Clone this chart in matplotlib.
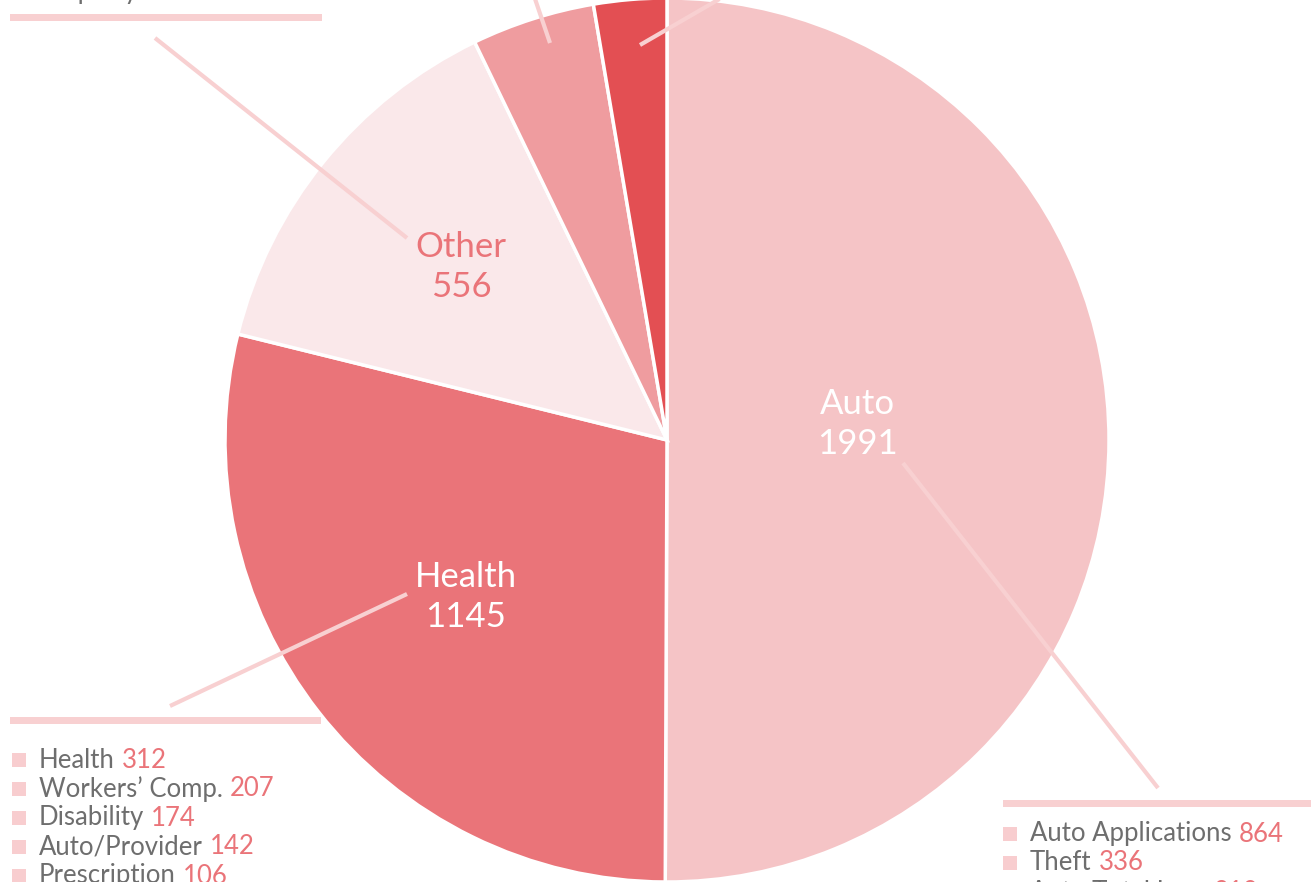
import matplotlib.pyplot as plt
from matplotlib.patches import Rectangle

# ================= data =================
slice_names = ['Auto', 'Health', 'Other', 'Property', 'Employment']
slice_values = [1991, 1145, 556, 179, 106]
slice_colors = ['#F5C4C6', '#EA7479', '#FAE8EA', '#EF9C9F', '#E34F53']

health_items = ['Health', "Workers\u2019 Comp.", 'Disability', 'Auto/Provider', 'Prescription']
health_counts = [312, 207, 174, 142, 106]

auto_items = ['Auto Applications', 'Theft', 'Auto Total Loss']
auto_counts = [864, 336, 210]

property_items = ['Property']
property_counts = [98]

plt.rcParams['font.family'] = ['Lato', 'DejaVu Sans']

LINE = '#F8D0D1'
GREY = '#6E6E6E'
NUM = '#EA7479'

fig = plt.figure(figsize=(13.11, 8.82), dpi=100)
ax = fig.add_axes([0, 0, 1, 1])

# y axis is inverted, so startangle -90 / counterclock=True shows as 12 o'clock, clockwise
ax.pie(slice_values, colors=slice_colors, center=(667, 440), radius=442,
       startangle=-90, counterclock=True, frame=True,
       wedgeprops=dict(edgecolor='white', linewidth=2.5))
# pixel coordinates, y down
ax.set_xlim(0, 1311)
ax.set_ylim(882, 0)
ax.set_aspect('equal')
ax.axis('off')

# ================= labels inside slices =================
lab = dict(fontsize=25, fontweight='normal', ha='center', va='center', linespacing=1.3)
ax.text(857, 424, f'{slice_names[0]}\n{slice_values[0]}', color='white', **lab)
ax.text(466, 597, f'{slice_names[1]}\n{slice_values[1]}', color='white', **lab)
ax.text(461, 267, f'{slice_names[2]}\n{slice_values[2]}', color=NUM, **lab)

# ================= leader lines and bars =================
leaders = [((903, 463), (1158, 788)),
           ((407, 594), (170, 706)),
           ((407, 238), (155, 38)),
           ((550, 43), (532, -10)),
           ((640, 45), (735, -10))]
for (x0, y0), (x1, y1) in leaders:
    ax.plot([x0, x1], [y0, y1], color=LINE, lw=3, solid_capstyle='butt')

for x, y, w in [(1003, 800, 320), (10, 717, 311), (10, 14, 312)]:
    ax.add_patch(Rectangle((x, y), w, 7, color=LINE, lw=0))


def draw_list(x, y0, names, counts):
    for i, (n, c) in enumerate(zip(names, counts)):
        y = y0 + 29 * i
        ax.add_patch(Rectangle((x - 27, y - 7), 14, 14, color='#F8CDCF', lw=0))
        t = ax.text(x, y, n, color=GREY, fontsize=18.5, fontweight='normal',
                    ha='left', va='center')
        ax.annotate(str(c), xy=(1, 0.5), xycoords=t, xytext=(5, 0),
                    textcoords='offset points', color=NUM, fontsize=18.5,
                    fontweight='normal', ha='left', va='center')


draw_list(39, 760, health_items, health_counts)
draw_list(1030, 834, auto_items, auto_counts)
draw_list(39, -9, property_items, property_counts)

plt.savefig('out.png', dpi=100)
